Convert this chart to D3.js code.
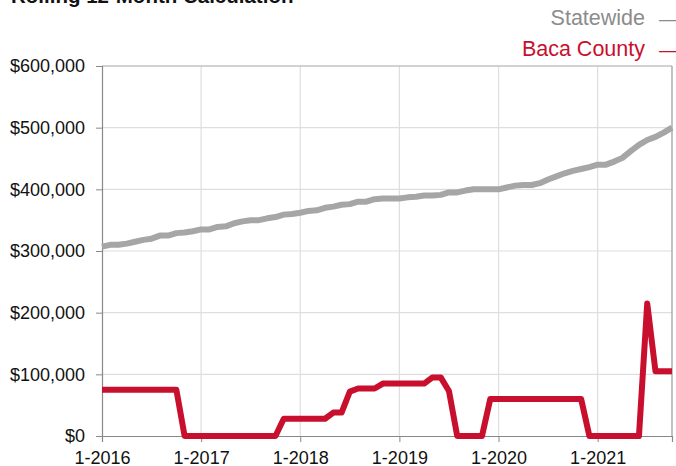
<html>
<head>
<meta charset="utf-8"/>
<script src="https://cdn.jsdelivr.net/npm/d3@7"></script>
<style>
  body { margin: 0; background: #fff; }
  svg text { font-family: "Liberation Sans", Arial, Helvetica, sans-serif; }
  .grid line { stroke: #dedede; stroke-width: 1.2; }
</style>
</head>
<body>
<div id="chart"></div>
<script>
// monthly points, Jan 2016 .. Oct 2021
var statewide = [
  307000, 310000, 310000, 312000, 315000, 318000, 320000, 325000, 325000, 329000, 330000, 332000,
  335000, 335000, 339000, 340000, 345000, 348000, 350000, 350000, 353000, 355000, 359000, 360000,
  362000, 365000, 366000, 370000, 372000, 375000, 376000, 380000, 380000, 384000, 385000, 385000,
  385000, 387000, 388000, 390000, 390000, 391000, 395000, 395000, 398000, 400000, 400000, 400000,
  400000, 403000, 406000, 407000, 407000, 410000, 416000, 421000, 426000, 430000, 433000, 436000,
  440000, 440000, 445000, 451000, 462000, 472000, 480000, 485000, 492000, 500000
];
var baca = [
  75000, 75000, 75000, 75000, 75000, 75000, 75000, 75000, 75000, 75000, 0, 0,
  0, 0, 0, 0, 0, 0, 0, 0, 0, 0, 28000, 28000,
  28000, 28000, 28000, 28000, 38000, 38000, 72000, 77000, 77000, 77000, 85000, 85000,
  85000, 85000, 85000, 85000, 95000, 95000, 73000, 0, 0, 0, 0, 60000,
  60000, 60000, 60000, 60000, 60000, 60000, 60000, 60000, 60000, 60000, 60000, 0,
  0, 0, 0, 0, 0, 0, 215000, 105000, 105000, 105000
];
var xTickIdx = [0, 12, 24, 36, 48, 60];
var xTickLabels = ["1-2016", "1-2017", "1-2018", "1-2019", "1-2020", "1-2021"];
var yTicks = [0, 100000, 200000, 300000, 400000, 500000, 600000];

var w = 676, h = 466;
var pLeft = 102, pRight = 672, pTop = 66, pBottom = 436;

var svg = d3.select("#chart").append("svg").attr("width", w).attr("height", h);

var x = d3.scaleLinear().domain([0, statewide.length - 1]).range([pLeft, pRight]);
var y = d3.scaleLinear().domain([0, 600000]).range([pBottom, pTop]);

// title (cut off at top)
svg.append("text").attr("x", 11).attr("y", 3)
  .style("font-size", "20.5px").style("font-weight", "bold").attr("fill", "#111")
  .text("Rolling 12-Month Calculation");

// gridlines
svg.append("g").attr("class", "grid")
  .selectAll("line").data(yTicks.slice(1)).enter().append("line")
  .attr("x1", pLeft).attr("x2", pRight)
  .attr("y1", function(d) { return y(d); }).attr("y2", function(d) { return y(d); });
svg.append("g").attr("class", "grid")
  .selectAll("line").data(xTickIdx.slice(1)).enter().append("line")
  .attr("y1", pTop).attr("y2", pBottom)
  .attr("x1", function(d) { return x(d); }).attr("x2", function(d) { return x(d); });

// frame
svg.append("line").attr("x1", pLeft).attr("x2", pRight).attr("y1", pTop).attr("y2", pTop)
  .attr("stroke", "#b5b5b5").attr("stroke-width", 1.2);
svg.append("line").attr("x1", pRight).attr("x2", pRight).attr("y1", pTop).attr("y2", pBottom)
  .attr("stroke", "#999").attr("stroke-width", 1.2);

// axes
var yAxis = d3.axisLeft(y).tickValues(yTicks).tickSize(6).tickPadding(11)
  .tickFormat(function(d) { return "$" + d3.format(",")(d); });
var gy = svg.append("g").attr("transform", "translate(" + pLeft + ",0)").call(yAxis);
gy.select(".domain").attr("stroke", "#888").attr("stroke-width", 1.2);
gy.selectAll(".tick line").attr("stroke", "#888");
gy.selectAll("text").style("font-size", "18px").attr("fill", "#111");

var xAxis = d3.axisBottom(x).tickValues(xTickIdx).tickSize(6).tickPadding(9)
  .tickFormat(function(d, i) { return xTickLabels[i]; });
var gx = svg.append("g").attr("transform", "translate(0," + pBottom + ")").call(xAxis);
gx.select(".domain").attr("stroke", "#888").attr("stroke-width", 1.2);
gx.selectAll(".tick line").attr("stroke", "#888");
gx.selectAll("text").style("font-size", "18px").attr("fill", "#111");

// lines
var line = d3.line().x(function(d, i) { return x(i); }).y(function(d) { return y(d); });
svg.append("path").datum(statewide).attr("d", line)
  .attr("fill", "none").attr("stroke", "#a6a6a6").attr("stroke-width", 6)
  .attr("stroke-linejoin", "round");
svg.append("path").datum(baca).attr("d", line)
  .attr("fill", "none").attr("stroke", "#c8102e").attr("stroke-width", 6)
  .attr("stroke-linejoin", "round");

// legend
var legend = [["Statewide", "#8c8c8c", 25], ["Baca County", "#c8102e", 56]];
legend.forEach(function(l) {
  svg.append("text").attr("x", 645).attr("y", l[2]).attr("text-anchor", "end")
    .style("font-size", "21.5px").attr("fill", l[1])
    .text(l[0]);
  svg.append("text").attr("x", 659).attr("y", l[2])
    .style("font-size", "19px").attr("fill", l[1])
    .text("\u2014");
});
</script>
</body>
</html>
